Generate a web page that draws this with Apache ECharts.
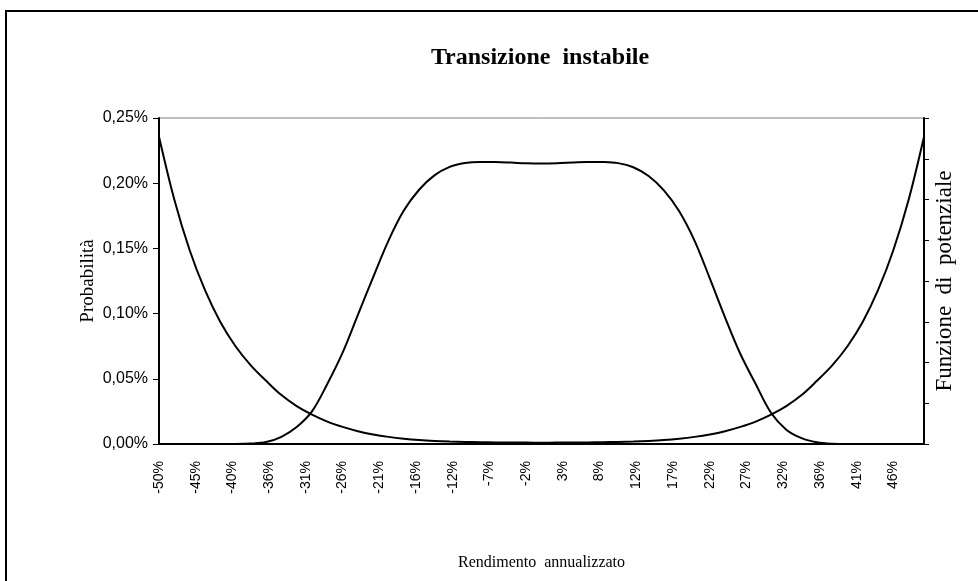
<!DOCTYPE html>
<html>
<head>
<meta charset="utf-8">
<script src="https://cdn.jsdelivr.net/npm/echarts@6/dist/echarts.min.js"></script>
<style>
  html, body { margin: 0; padding: 0; background: #fff; }
  #chart { width: 978px; height: 581px; }
</style>
</head>
<body>
<div id="chart"></div>
<script>
// x positions (rendimento annualizzato, %)
const returns = [-50, -48, -46, -44, -42, -40, -38, -36, -34, -32, -30, -28, -26, -24, -22, -20, -18, -16, -14, -12, -10, -8, -6, -4, -2,
  0, 2, 4, 6, 8, 10, 12, 14, 16, 18, 20, 22, 24, 26, 28, 30, 32, 34, 36, 38, 40, 42, 44, 46, 48, 50];

// Probabilità (left axis, %)
const probability = [0, 0, 0, 0, 0, 0, 0.0003, 0.0015, 0.0055, 0.013, 0.025, 0.046, 0.070, 0.099, 0.128, 0.156, 0.179, 0.195, 0.206, 0.2125, 0.2155, 0.2163, 0.2162, 0.2158, 0.2153,
  0.2151, 0.2153, 0.2158, 0.2163, 0.2162, 0.2154, 0.2122, 0.2055, 0.1945, 0.1785, 0.156, 0.127, 0.097, 0.069, 0.046, 0.024, 0.011, 0.0045, 0.0013, 0.0002, 0, 0, 0, 0, 0, 0];

// Funzione di potenziale (right axis, unlabelled units)
const potential = [7.54, 6.0, 4.76, 3.78, 3.0, 2.4, 1.93, 1.55, 1.2, 0.93, 0.72, 0.55, 0.42, 0.315, 0.235, 0.175, 0.13, 0.097, 0.075, 0.06, 0.05, 0.043, 0.038, 0.035, 0.034,
  0.033, 0.034, 0.035, 0.038, 0.043, 0.05, 0.06, 0.075, 0.097, 0.13, 0.175, 0.235, 0.315, 0.42, 0.55, 0.72, 0.93, 1.2, 1.55, 1.93, 2.4, 3.0, 3.78, 4.76, 6.0, 7.54];

// x tick positions and their labels
const xTickValues = [-50, -45.2, -40.4, -35.6, -30.8, -26, -21.2, -16.4, -11.6, -6.8, -2, 2.8, 7.6, 12.4, 17.2, 22, 26.8, 31.6, 36.4, 41.2, 46];
const xTickLabels = ['-50%', '-45%', '-40%', '-36%', '-31%', '-26%', '-21%', '-16%', '-12%', '-7%', '-2%', '3%', '8%', '12%', '17%', '22%', '27%', '32%', '36%', '41%', '46%'];

const serif = '"Liberation Serif", "Times New Roman", serif';
const sans = '"Liberation Sans", Arial, sans-serif';

const chart = echarts.init(document.getElementById('chart'), null, { renderer: 'canvas' });

chart.setOption({
  animation: false,
  backgroundColor: '#fff',
  graphic: [{
    type: 'rect',
    shape: { x: 6, y: 11, width: 1000, height: 600 },
    style: { fill: 'none', stroke: '#000', lineWidth: 2 },
    silent: true
  }, {
    type: 'text',
    x: 540, y: 58,
    style: {
      text: 'Transizione  instabile',
      font: 'bold 24px ' + serif,
      fill: '#000',
      align: 'center',
      verticalAlign: 'middle'
    },
    silent: true
  }],
  grid: {
    left: 159, top: 118, right: 54, bottom: 137,
    show: true, borderColor: '#808080', borderWidth: 1, backgroundColor: 'transparent'
  },
  xAxis: {
    type: 'value',
    min: -50, max: 50,
    name: 'Rendimento  annualizzato',
    nameLocation: 'middle',
    nameGap: 111,
    nameMoveOverlap: false,
    nameTextStyle: { fontFamily: serif, fontSize: 16, color: '#000' },
    axisLine: { onZero: false, lineStyle: { color: '#000', width: 2 } },
    axisTick: { show: false },
    splitLine: { show: false },
    axisLabel: {
      customValues: xTickValues,
      rotate: 90,
      margin: 17,
      fontFamily: sans, fontSize: 14, color: '#000',
      formatter: v => {
        const i = xTickValues.findIndex(t => Math.abs(t - v) < 1e-6);
        return i >= 0 ? xTickLabels[i] : '';
      }
    }
  },
  yAxis: [{
    type: 'value',
    min: 0, max: 0.25, interval: 0.05,
    name: 'Probabilità',
    nameLocation: 'middle',
    nameRotate: 90,
    nameGap: 61,
    nameMoveOverlap: false,
    nameTextStyle: { fontFamily: serif, fontSize: 19, color: '#000' },
    axisLine: { show: true, onZero: false, lineStyle: { color: '#000', width: 2 } },
    axisTick: { show: true, length: 6, lineStyle: { color: '#000', width: 1 } },
    splitLine: { show: false },
    axisLabel: {
      margin: 11,
      fontFamily: sans, fontSize: 16, color: '#000',
      formatter: v => v.toFixed(2).replace('.', ',') + '%'
    }
  }, {
    type: 'value',
    position: 'right',
    min: 0, max: 8, interval: 1,
    name: 'Funzione  di  potenziale',
    nameLocation: 'middle',
    nameRotate: 90,
    nameGap: 9,
    nameMoveOverlap: false,
    nameTextStyle: { fontFamily: serif, fontSize: 23, color: '#000' },
    axisLine: { show: true, onZero: false, lineStyle: { color: '#000', width: 2 } },
    axisTick: { show: true, length: 5, lineStyle: { color: '#000', width: 1 } },
    splitLine: { show: false },
    axisLabel: { show: false }
  }],
  series: [{
    name: 'Probabilità',
    type: 'line',
    yAxisIndex: 0,
    data: returns.map((r, i) => [r, probability[i]]),
    showSymbol: false,
    smooth: 0.35,
    lineStyle: { color: '#000', width: 2 }
  }, {
    name: 'Funzione di potenziale',
    type: 'line',
    yAxisIndex: 1,
    data: returns.map((r, i) => [r, potential[i]]),
    showSymbol: false,
    smooth: 0.35,
    lineStyle: { color: '#000', width: 2 }
  }]
});
</script>
</body>
</html>
